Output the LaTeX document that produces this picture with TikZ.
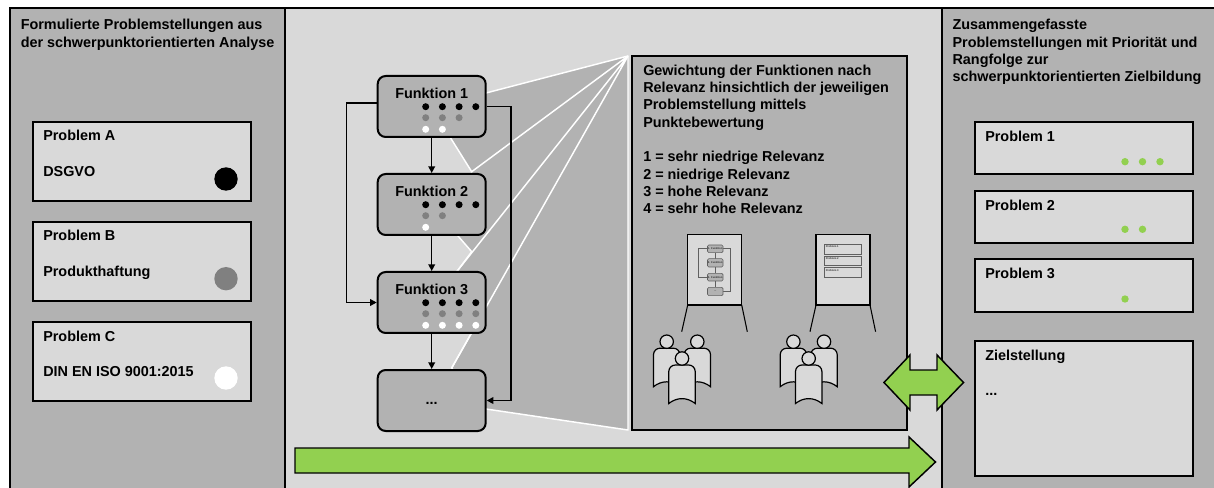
\documentclass[tikz,border=0pt]{standalone}
\usepackage{fontspec}
\setmainfont{Liberation Sans}
\usepackage{xcolor}
\usetikzlibrary{arrows.meta}

\definecolor{panelgray}{RGB}{178,178,178}
\definecolor{boxgray}{RGB}{217,217,217}
\definecolor{dotgray}{RGB}{128,128,128}
\definecolor{linegray}{RGB}{96,96,96}
\definecolor{arrowgreen}{RGB}{146,208,80}

\tikzset{
  txt/.style={font=\bfseries\fontsize{10.8}{13}\selectfont, inner sep=0pt, anchor=base west},
  hdr/.style={font=\bfseries\fontsize{10.8}{13}\selectfont, inner sep=0pt, anchor=north west, align=left},
  panel/.style={draw, line width=1.5pt},
  fbox/.style={draw, line width=1.5pt, fill=panelgray, rounded corners=6pt, minimum width=81pt, minimum height=45.75pt, inner sep=0pt},
  conn/.style={line width=1.1pt, -{Triangle[length=5pt,width=5pt]}},
  fan/.style={draw=white, line width=1.1pt, fill=panelgray, line join=round},
  garrow/.style={draw, line width=1.1pt, fill=arrowgreen},
  board/.style={draw, line width=1pt, fill=boxgray},
  tiny/.style={font=\bfseries\fontsize{2}{2.4}\selectfont, inner sep=0pt, text=black!80},
  minibox/.style={linegray, fill=panelgray, line width=0.4pt, rounded corners=1pt},
  person/.pic={
    \filldraw[fill=boxgray, line width=0.9pt] (-13.2,45) -- (-13.2,13) arc (180:270:6.5) -- (6.7,6.5) arc (270:360:6.5) -- (13.2,45) .. controls (5,38.5) and (-5,38.5) .. (-13.2,45) -- cycle;
    \filldraw[fill=boxgray, line width=0.9pt] (0,0) circle (6.7);
  }
}

\begin{document}
\begin{tikzpicture}[x=0.75pt,y=0.75pt,yscale=-1,xscale=1]
\useasboundingbox (0,0) rectangle (1214,488);
\clip (0,0) rectangle (1214,488);

%Shape: Panels
\draw[panel, fill=panelgray] (10,8) rectangle (285,498);
\draw[panel, fill=boxgray] (285,8) rectangle (942,498);
\draw[panel, fill=panelgray] (942,8) rectangle (1224,498);

% Text Node
\draw (20.5,19) node [hdr] (lefthdr) {Formulierte Problemstellungen aus\\der schwerpunktorientierten Analyse};

%Shape: Rectangle (Problem A, B, C)
\draw[panel, fill=boxgray] (33,122) rectangle (251,201);
\draw[panel, fill=boxgray] (33,222) rectangle (251,301);
\draw[panel, fill=boxgray] (33,322) rectangle (251,401);
% Text Node
\draw (43,141) node [txt] (pa) {Problem A};
\draw (43,176.5) node [txt] (pad) {DSGVO};
\draw (43,241) node [txt] (pb) {Problem B};
\draw (43,276.5) node [txt] (pbd) {Produkthaftung};
\draw (43,341) node [txt] (pc) {Problem C};
\draw (43,376.5) node [txt] (pcd) {DIN EN ISO 9001:2015};
%Shape: Circle
\fill[black] (226,179) circle (11.7);
\fill[dotgray] (226,278.7) circle (11.7);
\fill[white] (226,378) circle (11.7);

%Shape: Fan towards the weighting box
\coordinate (apex) at (628,56);
\draw[fan] (apex) -- (486,93) -- (450,137) -- (471.7,171.7) -- (458,236) -- (471.7,251.7) -- (456.7,271.7) -- (471.6,333) -- (451.7,368) -- (486,409) -- (628,430) -- cycle;
\draw[draw=white, line width=1.1pt] (apex) -- (471.7,171.7) (apex) -- (456.7,271.7) (apex) -- (451.7,368);

%Shape: Weighting box
\draw[panel, fill=panelgray] (632,56) rectangle (907,430);
% Text Node
\draw (643,64.5) node [hdr] (wtext) {Gewichtung der Funktionen nach\\Relevanz hinsichtlich der jeweiligen\\Problemstellung mittels\\Punktebewertung\\[13pt]1 = sehr niedrige Relevanz\\2 = niedrige Relevanz\\3 = hohe Relevanz\\4 = sehr hohe Relevanz};

%Shape: Function boxes
\node[fbox] (f1) at (431.7,106.5) {};
\node[fbox] (f2) at (431.7,204.5) {};
\node[fbox] (f3) at (431.7,302.5) {};
\node[fbox] (f4) at (431.7,400.5) {};
% Text Node
\draw (431.7,98.3) node [txt, anchor=base] (f1t) {Funktion 1};
\draw (431.7,196.3) node [txt, anchor=base] (f2t) {Funktion 2};
\draw (431.7,294.3) node [txt, anchor=base] (f3t) {Funktion 3};
\draw (431.7,404.5) node [txt, anchor=base] (f4t) {...};

%Straight Lines
\draw[conn] (f1.south) -- (f2.north);
\draw[conn] (f2.south) -- (f3.north);
\draw[conn] (f3.south) -- (f4.north);
\draw[conn] ([yshift=-2.6pt]f1.west) -- ++(-30,0) |- (f3.west);
\draw[conn] (f1.east) -- ++(24.3,0) |- (f4.east);

% rating dots: black = 4, grey = 3, white = 2 points
\foreach \y/\k/\c in {106.7/4/black, 117.7/3/dotgray, 129.3/2/white,
                      204.7/4/black, 215.7/2/dotgray, 227.3/1/white,
                      302.7/4/black, 313.7/4/dotgray, 325.3/4/white}
  \foreach \i in {1,...,\k} \fill[\c] (409+16.7*\i,\y) circle (3.5);

%Shape: Flipchart with function chart
\draw[board] (687.7,234.3) rectangle (741.7,305);
\draw[line width=0.8pt] (687.7,305) -- (681.7,331.7) (741.7,305) -- (747.3,331.7);
\draw[linegray, line width=0.4pt] (698.3,248.3) -- (707.5,248.3) (698.3,248.3) -- (698.3,277.3) -- (707.5,277.3);
\draw[linegray, line width=0.4pt] (723,248.3) -- (730.7,248.3) -- (730.7,291.7) -- (723,291.7);
\draw[linegray, line width=0.4pt] (715.2,252.7) -- (715.2,258.7) (715.2,267) -- (715.2,273.3) (715.2,281) -- (715.2,287.3);
\draw[minibox] (707.5,245) rectangle (723,252.7);
\draw[minibox] (707.5,258.7) rectangle (723,267);
\draw[minibox] (707.5,273.3) rectangle (723,281);
\draw[minibox] (707.5,287.3) rectangle (723,295.7);
\draw (715.2,248.9) node [tiny] (mf1) {1. Funktion};
\draw (715.2,262.9) node [tiny] (mf2) {2. Funktion};
\draw (715.2,277.2) node [tiny] (mf3) {3. Funktion};
\draw (715.2,291.5) node [tiny] (mf4) {...};

%Shape: Flipchart with problem list
\draw[board] (816,234.3) rectangle (870,305);
\draw[line width=0.8pt] (816,305) -- (810,331.7) (870,305) -- (875.6,331.7);
\foreach \t/\b/\s in {244/254/Problem 1, 256/265.7/Problem 2, 267.7/277.3/Problem 3} {
  \draw[linegray, fill=boxgray, line width=0.4pt] (824,\t) rectangle (861.7,\b);
  \draw (825.5,\t+1.6) node [tiny, anchor=north west] {\s};
}

%Shape: Groups of people
\path (666.7,341.7) pic[yscale=-1] {person};
\path (697.3,341.7) pic[yscale=-1] {person};
\path (682,358.5) pic[yscale=-1] {person};
\path (793.4,341.7) pic[yscale=-1] {person};
\path (824,341.7) pic[yscale=-1] {person};
\path (808.7,358.5) pic[yscale=-1] {person};

%Shape: Green arrows
\draw[garrow] (295,448) -- (909,448) -- (909,437) -- (935.5,462) -- (909,487) -- (909,473) -- (295,473) -- cycle;
\draw[garrow] (884,382.5) -- (910,355) -- (910,370) -- (937,370) -- (937,355) -- (963.5,382.5) -- (937,410) -- (937,395) -- (910,395) -- (910,410) -- cycle;

% Text Node
\draw (952.3,19.3) node [hdr] (righthdr) {Zusammengefasste\\Problemstellungen mit Priorität und\\Rangfolge zur\\schwerpunktorientierten Zielbildung};

%Shape: Rectangle (Problem 1, 2, 3 and Zielstellung)
\draw[panel, fill=boxgray] (975,121.7) rectangle (1193.3,174.3);
\draw[panel, fill=boxgray] (975,190.7) rectangle (1193.3,243.3);
\draw[panel, fill=boxgray] (975,259.3) rectangle (1193.3,311.7);
\draw[panel, fill=boxgray] (975,340.7) rectangle (1193.3,476);
% Text Node
\draw (985,141.5) node [txt] (p1) {Problem 1};
\draw (985,210.5) node [txt] (p2) {Problem 2};
\draw (985,279) node [txt] (p3) {Problem 3};
\draw (985,360) node [txt] (ziel) {Zielstellung};
\draw (985,395) node [txt] (zieldots) {...};
% priority dots
\foreach \x in {1125,1142.5,1160} \fill[arrowgreen] (\x,161.7) circle (3.7);
\foreach \x in {1125,1142.5} \fill[arrowgreen] (\x,229.3) circle (3.7);
\fill[arrowgreen] (1125,299) circle (3.7);

\end{tikzpicture}
\end{document}
